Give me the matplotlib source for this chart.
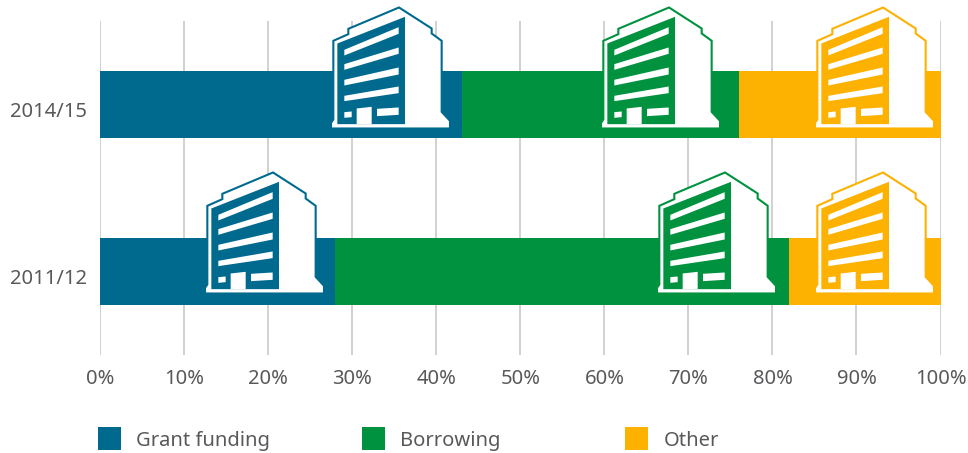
import matplotlib
matplotlib.use("Agg")
import matplotlib.pyplot as plt
from matplotlib.patches import Polygon, Rectangle
from matplotlib.transforms import IdentityTransform, ScaledTranslation

plt.rcParams["font.family"] = ["Noto Sans", "DejaVu Sans"]

years = ["2011/12", "2014/15"]
sources = ["Grant funding", "Borrowing", "Other"]
grant = [28, 43]
borrowing = [54, 33]
other = [18, 24]
ticks = list(range(0, 101, 10))
tick_labels = [f"{t}%" for t in ticks]

colors = ["#006a8e", "#00923f", "#fdb100"]
text_col = "#58595b"
W, H = 968, 453

# icon outlines, traced in 3x pixels, origin at bottom left corner of the icon
def pts(p):
    return [((x - 33) / 3, (385 - y) / 3) for x, y in p]

outline = pts([(40, 122), (85, 102), (85, 86), (237, 22), (335, 85), (335, 100), (365, 122),
               (365, 335), (390, 362), (390, 385), (33, 385), (33, 368), (40, 358)])
front = pts([(52, 130), (255, 50), (255, 372), (52, 372)])
holes = [
    pts([(73, 149), (236, 81), (236, 101), (73, 166)]),
    pts([(73, 192), (236, 142), (236, 161), (73, 209)]),
    pts([(73, 239), (236, 202), (236, 223), (73, 256)]),
    pts([(73, 287), (236, 259), (236, 279), (73, 303)]),
    pts([(110, 325), (155, 320), (155, 372), (110, 372)]),
    pts([(73, 336), (95, 334), (95, 351), (73, 353)]),
    pts([(171, 326), (236, 322), (236, 344), (171, 348)]),
]

fig = plt.figure(figsize=(W / 100, H / 100), dpi=100)
ax = fig.add_axes([100.2 / W, (H - 355) / H, 840.3 / W, 334 / H])

left = [0, 0]
for vals, c in zip([grant, borrowing, other], colors):
    ax.barh([0, 1], vals, left=left, height=0.401, color=c, zorder=2)
    left = [a + b for a, b in zip(left, vals)]

ax.set_xlim(0, 100)
ax.set_ylim(-0.5, 1.5)
ax.set_yticks([0, 1], years)
ax.set_xticks(ticks, tick_labels)
ax.tick_params(length=0, labelsize=14.5, labelcolor=text_col)
ax.tick_params(axis="x", pad=10)
ax.tick_params(axis="y", pad=9.5)
ax.grid(axis="x", color="#c9c9c9", lw=1.2, zorder=0)
ax.set_axisbelow(True)
for s in ax.spines.values():
    s.set_visible(False)
# the year labels sit a little under the bar centre
for lab in ax.get_yticklabels():
    lab.set_transform(lab.get_transform() + ScaledTranslation(0, -5 / 100, fig.dpi_scale_trans))

# icon left edge in px, row, colour index, icon base above bar bottom in px
icons = [(331, 1, 0, 9.5), (601, 1, 1, 9.5), (815, 1, 2, 9.5),
         (205, 0, 0, 11.5), (657, 0, 1, 11.5), (815, 0, 2, 11.5)]
for px, row, ci, lift in icons:
    y0 = ax.transData.transform((0, row - 0.2005))[1] + lift
    c = colors[ci]
    def place(p):
        return [(px + x, y0 + y) for x, y in p]
    fig.add_artist(Polygon(place(outline), fc="white", ec=c, lw=1.5, joinstyle="miter",
                           transform=IdentityTransform(), zorder=5))
    fig.add_artist(Polygon(place(front), fc=c, ec="none", transform=IdentityTransform(), zorder=6))
    for h in holes:
        fig.add_artist(Polygon(place(h), fc="white", ec="none", transform=IdentityTransform(), zorder=7))

# legend
legend_x = [98, 362, 625]
text_x = [136, 400, 664]
for name, c, lx, tx in zip(sources, colors, legend_x, text_x):
    fig.add_artist(Rectangle((lx / W, (H - 450) / H), 23 / W, 23 / H, fc=c, ec="none",
                             transform=fig.transFigure))
    fig.text(tx / W, (H - 441) / H, name, color=text_col, fontsize=14.5, va="center", ha="left")

fig.savefig("out.png", dpi=100)
